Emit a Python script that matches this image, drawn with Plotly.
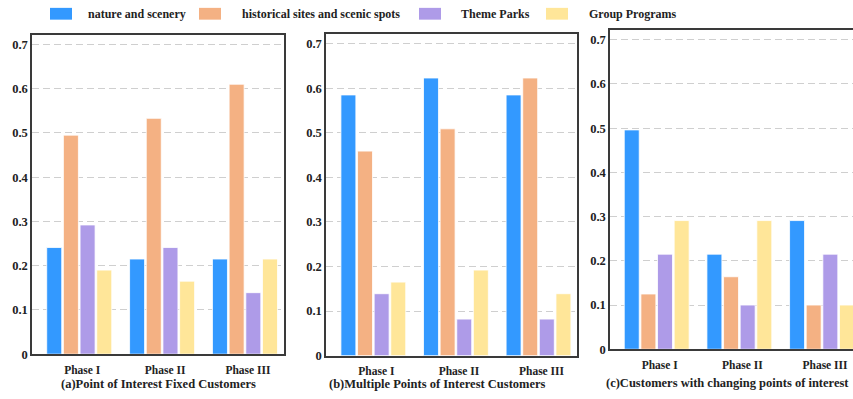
import plotly.graph_objects as go

# Share of customers per phase, one list per interest type
phases = ["Phase I", "Phase II", "Phase III"]
series_names = ["nature and scenery", "historical sites and scenic spots",
                "Theme Parks", "Group Programs"]
colors = ["#3399FF", "#F4B183", "#AE9BE8", "#FFE699"]

fixed_nature = [0.241, 0.215, 0.215]
fixed_historic = [0.495, 0.533, 0.610]
fixed_theme = [0.292, 0.241, 0.139]
fixed_group = [0.190, 0.165, 0.215]

multi_nature = [0.585, 0.623, 0.585]
multi_historic = [0.459, 0.509, 0.623]
multi_theme = [0.139, 0.082, 0.082]
multi_group = [0.165, 0.192, 0.139]

change_nature = [0.496, 0.215, 0.291]
change_historic = [0.125, 0.164, 0.100]
change_theme = [0.215, 0.100, 0.215]
change_group = [0.291, 0.291, 0.100]

panel_titles = ["(a)Point of Interest Fixed Customers",
                "(b)Multiple Points of Interest Customers",
                "(c)Customers with changing points of interest"]
y_ticks = [0, 0.1, 0.2, 0.3, 0.4, 0.5, 0.6, 0.7]

panels = [
    [fixed_nature, fixed_historic, fixed_theme, fixed_group],
    [multi_nature, multi_historic, multi_theme, multi_group],
    [change_nature, change_historic, change_theme, change_group],
]

W, H = 853, 399
FONT = "Liberation Serif"

def px_x(p):
    return p / W

def px_y(p):
    return (H - p) / H

# pixel boxes for each panel: left, right, top, bottom
boxes = [(32, 283.5, 35.3, 360.5), (326, 577, 34.5, 362), (610, 853, 30.5, 355.5)]
x_ranges = [[-0.57, 2.465], [-0.573, 2.466], [-0.565, 2.375]]
# title anchor x, y and horizontal anchoring
title_pos = [(158, 391, "center"), (437.5, 391, "center"), (851, 390, "right")]

fig = go.Figure()
for i, (vals, box) in enumerate(zip(panels, boxes)):
    sfx = "" if i == 0 else str(i + 1)
    for name, col, v in zip(series_names, colors, vals):
        fig.add_trace(go.Bar(
            x=phases, y=v, name=name, marker_color=col,
            marker_line=dict(color="white", width=0.8),
            xaxis="x" + sfx, yaxis="y" + sfx, showlegend=False,
        ))
    l, r, t, b = box
    last = i == 2
    fig.update_layout(**{
        "xaxis" + sfx: dict(
            domain=[px_x(l), min(px_x(r), 1.0)], range=x_ranges[i],
            anchor="y" + sfx, showline=True, linecolor="#3a3a3a", linewidth=1.5,
            mirror=True, showgrid=False, ticks="", ticklabelshift=3,
            ticklabelstandoff=4,
            tickfont=dict(family=FONT, size=11.5, color="#222", weight="bold"),
            fixedrange=True,
        ),
        "yaxis" + sfx: dict(
            domain=[px_y(b), px_y(t)], range=[0, 0.722], anchor="x" + sfx,
            showline=True, linecolor="#3a3a3a", linewidth=1.5,
            mirror=(not last), tickvals=y_ticks, ticktext=[str(v) for v in y_ticks],
            showgrid=True, gridcolor="#cfcfcf", gridwidth=1.2, griddash="7px,4px",
            zeroline=False, ticks="",
            tickfont=dict(family=FONT, size=12.5, color="#222", weight="bold"),
        ),
    })
    tx, ty, anchor = title_pos[i]
    fig.add_annotation(
        x=px_x(tx), y=px_y(ty), xref="paper", yref="paper", showarrow=False,
        text=panel_titles[i], xanchor=anchor, yanchor="middle",
        font=dict(family=FONT, size=12.5, color="#222", weight="bold"),
    )

# legend row across the top
swatch_left = [50, 199, 419, 546]
text_left = [86, 240, 459, 587]
for name, col, sx, tx in zip(series_names, colors, swatch_left, text_left):
    fig.add_shape(type="rect", xref="paper", yref="paper",
                  x0=px_x(sx), x1=px_x(sx + 22), y0=px_y(20), y1=px_y(8),
                  fillcolor=col, line=dict(width=0))
    fig.add_annotation(
        x=px_x(tx), y=px_y(14), xref="paper", yref="paper", showarrow=False,
        text=name, xanchor="left", yanchor="middle",
        font=dict(family=FONT, size=12, color="#222", weight="bold"),
    )

fig.update_layout(
    width=W, height=H, margin=dict(l=0, r=0, t=0, b=0),
    barmode="group", bargap=0.195, bargroupgap=0.1,
    plot_bgcolor="white", paper_bgcolor="white",
)

fig.write_html("out.html")
